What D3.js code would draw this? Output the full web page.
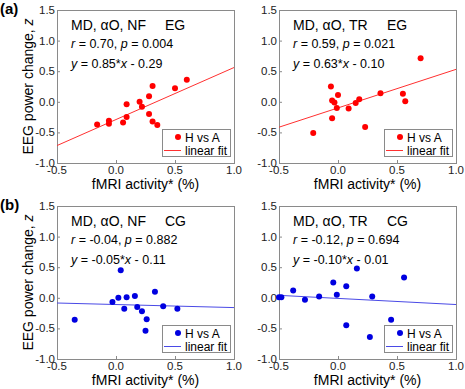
<!DOCTYPE html>
<html>
<head>
<meta charset="utf-8">
<script src="https://cdn.jsdelivr.net/npm/d3@7"></script>
<style>
  body { margin: 0; background: #fff; }
  text { font-family: "Liberation Sans", Arial, sans-serif; }
</style>
</head>
<body>
<div id="chart"></div>
<script>
// data
var panelIds = ["a1", "a2", "b1", "b2"]
var conditions = ["MD, \u03b1O, NF", "MD, \u03b1O, TR", "MD, \u03b1O, NF", "MD, \u03b1O, TR"]
var groups = ["EG", "EG", "CG", "CG"]
var rValues = ["0.70", "0.59", "-0.04", "-0.12"]
var pValues = ["0.004", "0.021", "0.882", "0.694"]
var slopes = [0.85, 0.63, -0.05, -0.10]
var intercepts = [-0.29, -0.10, -0.11, -0.01]
var slopeLabels = ["0.85", "0.63", "-0.05", "-0.10"]
var interceptLabels = ["- 0.29", "- 0.10", "- 0.11", "- 0.01"]

var xA1 = [-0.16, -0.06, -0.06, 0.06, 0.09, 0.09, 0.20, 0.22, 0.28, 0.28, 0.31, 0.31, 0.35, 0.50, 0.60]
var yA1 = [-0.37, -0.31, -0.36, -0.34, -0.25, -0.04, 0.00, -0.08, 0.09, -0.20, 0.26, -0.32, -0.38, 0.22, 0.36]
var xA2 = [-0.21, -0.06, -0.05, -0.03, -0.01, 0.00, -0.05, 0.09, 0.15, 0.18, 0.23, 0.36, 0.55, 0.57, 0.70]
var yA2 = [-0.51, 0.25, 0.02, -0.01, -0.10, 0.11, -0.27, -0.11, -0.02, 0.04, -0.41, 0.14, 0.13, 0.01, 0.71]
var xB1 = [-0.35, -0.03, 0.02, 0.04, 0.07, 0.09, 0.16, 0.18, 0.22, 0.26, 0.25, 0.33, 0.40, 0.52]
var yB1 = [-0.36, -0.07, 0.00, 0.45, -0.18, 0.01, 0.03, -0.15, -0.22, -0.35, -0.54, 0.10, -0.14, -0.18]
var xB2 = [-0.50, -0.48, -0.38, -0.28, -0.16, -0.04, -0.01, 0.07, 0.07, 0.16, 0.29, 0.27, 0.45, 0.56]
var yB2 = [0.01, 0.01, 0.12, -0.03, 0.02, 0.25, 0.05, 0.19, -0.45, 0.48, 0.02, -0.64, -0.36, 0.33]

var xTicks = [-0.5, 0.0, 0.5, 1.0]
var yTicks = [-1.0, -0.5, 0.0, 0.5, 1.0, 1.5]
var panelLetters = ["(a)", "(b)"]

var xsAll = [xA1, xA2, xB1, xB2]
var ysAll = [yA1, yA2, yB1, yB2]
var pointColors = ["#ff0000", "#ff0000", "#0000e0", "#0000e0"]
var lineColors = ["#ff3030", "#ff3030", "#4a4ae6", "#4a4ae6"]

var W = 465, H = 389
var colLeft = [57, 279], plotW = 177
var rowTop = [10, 206], plotH = 153

// plain hyphen minus, like the original figure
function fmt(d){ return d.toFixed(1) }

var svg = d3.select("#chart").append("svg")
    .attr("width", W)
    .attr("height", H)

panelLetters.forEach(function(l, i){
    svg.append("text")
        .attr("x", 0)
        .attr("y", rowTop[i] + 4)
        .attr("font-size", "15px")
        .attr("font-weight", "bold")
        .style("fill", "#000")
        .text(l)
})

function drawPanel(k){
    var row = Math.floor(k / 2), col = k % 2
    var x0 = colLeft[col], y0 = rowTop[row]
    var g = svg.append("g")
        .attr("id", "panel-" + panelIds[k])
        .attr("transform", "translate(" + x0 + "," + y0 + ")")

    var xScale = d3.scaleLinear().domain([-0.5, 1.0]).range([0, plotW])
    var yScale = d3.scaleLinear().domain([-1.0, 1.5]).range([plotH, 0])

    // frame
    g.append("rect")
        .attr("x", 0.5).attr("y", 0.5)
        .attr("width", plotW).attr("height", plotH)
        .attr("fill", "none")
        .attr("stroke", "#8a8a8a")
        .attr("stroke-width", 1)

    // inward tick marks
    g.selectAll("line.xt")
        .data(xTicks)
        .enter()
        .append("line")
        .attr("class", "xt")
        .attr("x1", function(d){ return xScale(d) + 0.5 })
        .attr("x2", function(d){ return xScale(d) + 0.5 })
        .attr("y1", plotH).attr("y2", plotH - 3)
        .attr("stroke", "#8a8a8a")
    g.selectAll("line.yt")
        .data(yTicks)
        .enter()
        .append("line")
        .attr("class", "yt")
        .attr("x1", 0).attr("x2", 3)
        .attr("y1", function(d){ return yScale(d) + 0.5 })
        .attr("y2", function(d){ return yScale(d) + 0.5 })
        .attr("stroke", "#8a8a8a")

    // tick labels
    g.selectAll("text.xl")
        .data(xTicks)
        .enter()
        .append("text")
        .attr("class", "xl")
        .attr("x", function(d){ return xScale(d) })
        .attr("y", plotH + 11)
        .attr("text-anchor", "middle")
        .attr("font-size", "11.5px")
        .style("fill", "#222")
        .text(fmt)
    g.selectAll("text.yl")
        .data(yTicks)
        .enter()
        .append("text")
        .attr("class", "yl")
        .attr("x", -2)
        .attr("y", function(d){ return yScale(d) + 4 })
        .attr("text-anchor", "end")
        .attr("font-size", "11.5px")
        .style("fill", "#222")
        .text(fmt)

    // fit line
    var fitLine = d3.line()
        .x(function(d){ return xScale(d) })
        .y(function(d){ return yScale(slopes[k] * d + intercepts[k]) })
    g.append("path")
        .datum(xScale.domain())
        .attr("d", fitLine)
        .attr("fill", "none")
        .attr("stroke", lineColors[k])
        .attr("stroke-width", 1)

    // points
    var pts = xsAll[k].map(function(v, i){ return {x: v, y: ysAll[k][i]} })
    g.selectAll("circle.pt")
        .data(pts)
        .enter()
        .append("circle")
        .attr("class", "pt")
        .attr("cx", function(d){ return xScale(d.x) })
        .attr("cy", function(d){ return yScale(d.y) })
        .attr("r", 3)
        .attr("fill", pointColors[k])

    // annotation text
    g.append("text").attr("x", 14).attr("y", 20).attr("font-size", "14px").style("fill", "#000").text(conditions[k])
    g.append("text").attr("x", 108).attr("y", 20).attr("font-size", "14px").style("fill", "#000").text(groups[k])

    var t2 = g.append("text").attr("x", 14).attr("y", 38).attr("font-size", "12.5px").style("fill", "#000")
    t2.append("tspan").attr("font-style", "italic").text("r")
    t2.append("tspan").text(" = " + rValues[k] + ", ")
    t2.append("tspan").attr("font-style", "italic").text("p")
    t2.append("tspan").text(" = " + pValues[k])

    var t3 = g.append("text").attr("x", 14).attr("y", 58).attr("font-size", "12.5px").style("fill", "#000")
    t3.append("tspan").attr("font-style", "italic").text("y")
    t3.append("tspan").text(" = " + slopeLabels[k] + "*")
    t3.append("tspan").attr("font-style", "italic").text("x")
    t3.append("tspan").text(" " + interceptLabels[k])

    // legend
    var lg = g.append("g").attr("transform", "translate(" + (plotW - 72) + "," + (plotH - 34) + ")")
    lg.append("rect")
        .attr("x", 0.5).attr("y", 0.5)
        .attr("width", 68).attr("height", 27)
        .attr("fill", "#fff")
        .attr("stroke", "#8a8a8a")
    lg.append("circle").attr("cx", 16).attr("cy", 8).attr("r", 3).attr("fill", pointColors[k])
    lg.append("text").attr("x", 23).attr("y", 12.5).attr("font-size", "12px").style("fill", "#000").text("H vs A")
    lg.append("line")
        .attr("x1", 2).attr("x2", 19)
        .attr("y1", 21.5).attr("y2", 21.5)
        .attr("stroke", lineColors[k])
    lg.append("text").attr("x", 23).attr("y", 25.5).attr("font-size", "12px").style("fill", "#000").text("linear fit")

    // axis labels
    g.append("text")
        .attr("x", plotW / 2)
        .attr("y", plotH + 26)
        .attr("text-anchor", "middle")
        .attr("font-size", "14px")
        .style("fill", "#000")
        .text("fMRI activity* (%)")

    if (col === 0) {
        var ylab = g.append("text")
            .attr("transform", "translate(-24," + (plotH / 2) + ") rotate(-90)")
            .attr("text-anchor", "middle")
            .attr("font-size", "14px")
            .style("fill", "#000")
        ylab.append("tspan").text("EEG power change, ")
        ylab.append("tspan").attr("font-style", "italic").text("z")
    }
}

panelIds.forEach(function(p, k){ drawPanel(k) })
</script>
</body>
</html>
